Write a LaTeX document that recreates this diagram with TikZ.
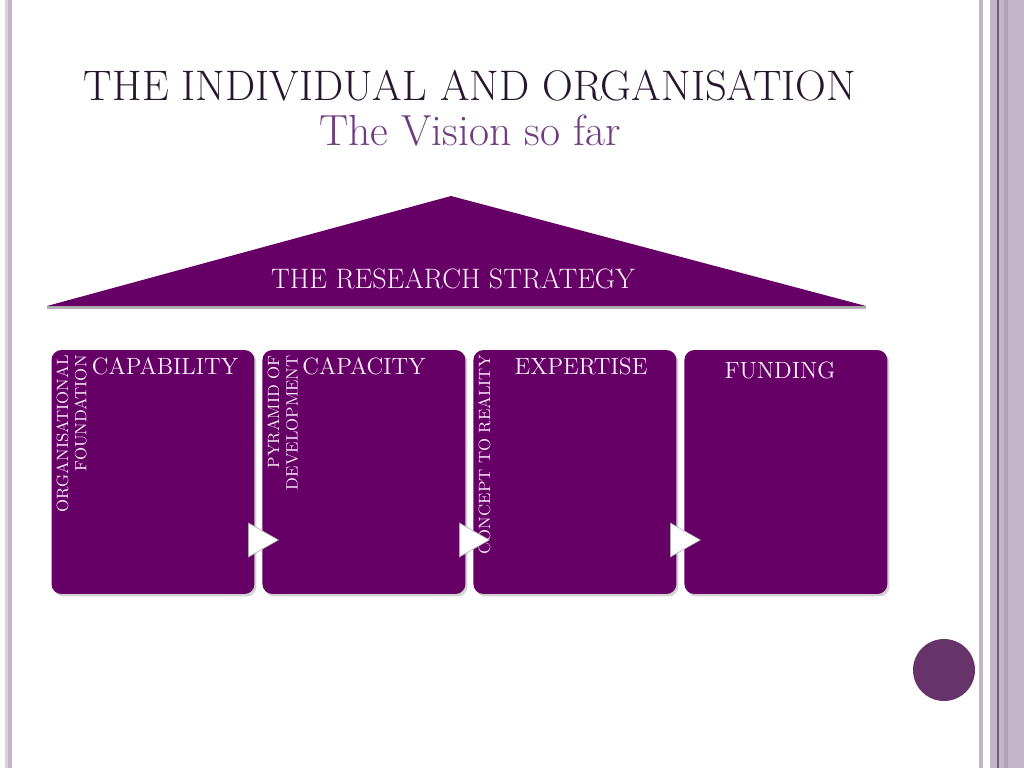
\documentclass[tikz,border=0pt]{standalone}
\usepackage{tikz}
\usetikzlibrary{positioning,calc,shadows}
\definecolor{boxpurple}{HTML}{660066}
\definecolor{titledark}{HTML}{2A1530}
\definecolor{subpurple}{HTML}{703C80}
\definecolor{stripe}{HTML}{C4B4C8}
\definecolor{stripelight}{HTML}{DCD0DF}
\definecolor{dotpurple}{HTML}{66336A}
\definecolor{boxtext}{HTML}{FFF2FF}
\tikzset{
  pillar/.style={fill=boxpurple, rounded corners=0.2cm, minimum width=4.06cm, minimum height=4.88cm, inner sep=0pt, outer sep=0pt,
    drop shadow={shadow xshift=0.04cm, shadow yshift=-0.05cm, opacity=0.35}},
  pillarlabel/.style={text=boxtext, font=\fontsize{13.4}{15}\selectfont, inner sep=0pt},
  sidelabel/.style={text=boxtext, font=\fontsize{9.3}{10.5}\selectfont, rotate=90, align=right, anchor=north east, inner sep=0pt},
  chevron/.style={fill=white, draw=black!35, line width=0.3pt}
}
\begin{document}
\begin{tikzpicture}[x=0.02cm,y=-0.02cm]
\useasboundingbox (0,0) rectangle (1024,768);
% side stripes
\fill[stripelight] (5,0) rectangle (8,768);
\fill[stripe] (8,0) rectangle (12,768);
\fill[stripe] (979,0) rectangle (983,768);
\fill[stripe] (990,0) rectangle (1024,768);
\fill[black!10!stripe] (1004,0) rectangle (1008,768);
\draw[black!45!stripe, line width=0.6pt] (998,0) -- (998,768);

% title
\node[text=titledark, font=\fontsize{24.3}{28}\selectfont, anchor=base] (title) at (470,100) {THE INDIVIDUAL AND ORGANISATION};
\node[text=subpurple, font=\fontsize{24.8}{28}\selectfont, anchor=base] (sub) at (470,145) {The Vision so far};

% roof
\fill[black!30] (47,306) -- (866,306) -- (866,309) -- (47,309) -- cycle;
\fill[boxpurple] (451,196) -- (866,306) -- (47,306) -- cycle;
\node[text=boxtext, font=\fontsize{16}{18}\selectfont, anchor=base] (roof) at (453,288) {THE RESEARCH STRATEGY};

% pillars
\node[pillar] (1) at (153,472) {};
\node[pillar, right=0.16cm of 1] (2) {};
\node[pillar, right=0.16cm of 2] (3) {};
\node[pillar, right=0.16cm of 3] (4) {};

\node[pillarlabel, anchor=base] (c1) at (165,374) {CAPABILITY};
\node[pillarlabel, anchor=base] (c2) at (364,374) {CAPACITY};
\node[pillarlabel, anchor=base] (c3) at (581,374) {EXPERTISE};
\node[pillarlabel, anchor=base] (c4) at (780,378) {FUNDING};

\node[sidelabel] (s1) at (56,355) {ORGANISATIONAL\\FOUNDATION};
\node[sidelabel] (s2) at (267,355) {PYRAMID OF\\DEVELOPMENT};
\node[sidelabel] (s3) at (478,355) {CONCEPT TO REALITY};

% arrows between pillars
\foreach \b in {1,2,3}
  \filldraw[chevron] ([shift={(-6,-37)}]\b.south east) -- ++(30,-17) -- ++(-30,-17) -- cycle;

% dot
\fill[dotpurple] (944,670) circle (0.62cm);
\end{tikzpicture}
\end{document}
